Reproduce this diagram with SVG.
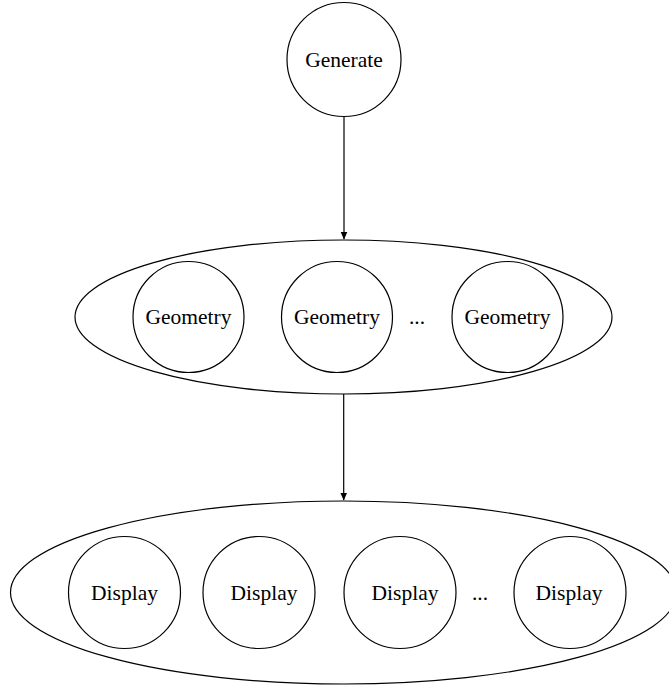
<svg xmlns="http://www.w3.org/2000/svg" width="669" height="688" viewBox="0 0 669 688">
<defs>
<style>
.n{fill:none;stroke:#000;stroke-width:1.2}
.t{font-family:"Liberation Serif","Times New Roman",serif;font-size:21.5px;fill:#000;text-anchor:middle}
.e{stroke:#000;stroke-width:1.2;fill:none}
</style>
<marker id="ah" markerWidth="8" markerHeight="12" refX="7.5" refY="3.5" orient="auto" markerUnits="userSpaceOnUse" viewBox="0 0 8 7">
<path d="M0,0 L8,3.5 L0,7 Z" fill="#000"/>
</marker>
</defs>
<rect width="669" height="688" fill="#fff"/>
<g id="connectors">
<line class="e" x1="344" y1="117" x2="344" y2="239" marker-end="url(#ah)"/>
<line class="e" x1="343.7" y1="394" x2="343.7" y2="500" marker-end="url(#ah)"/>
</g>
<g id="generate">
<circle class="n" cx="344" cy="59.5" r="57"/>
<text class="t" x="344" y="67">Generate</text>
</g>
<g id="geometry-group">
<ellipse class="n" cx="343.5" cy="317" rx="268.5" ry="77"/>
</g>
<g id="geometry1">
<circle class="n" cx="188.5" cy="317" r="55.5"/>
<text class="t" x="188.5" y="324">Geometry</text>
</g>
<g id="geometry2">
<circle class="n" cx="337" cy="317" r="55.5"/>
<text class="t" x="337" y="324">Geometry</text>
</g>
<g id="geometry-dots">
<text class="t" x="417" y="324">...</text>
</g>
<g id="geometry3">
<circle class="n" cx="507.5" cy="317" r="55.5"/>
<text class="t" x="507.5" y="324">Geometry</text>
</g>
<g id="display-group">
<ellipse class="n" cx="343.5" cy="592.5" rx="333" ry="91.5"/>
</g>
<g id="display1">
<circle class="n" cx="124.5" cy="592.5" r="56"/>
<text class="t" x="124.5" y="600">Display</text>
</g>
<g id="display2">
<circle class="n" cx="259" cy="592.5" r="56"/>
<text class="t" x="264" y="600">Display</text>
</g>
<g id="display3">
<circle class="n" cx="400" cy="592.5" r="56"/>
<text class="t" x="405" y="600">Display</text>
</g>
<g id="display-dots">
<text class="t" x="480" y="600">...</text>
</g>
<g id="display4">
<circle class="n" cx="570" cy="592.5" r="56"/>
<text class="t" x="569" y="600">Display</text>
</g>
</svg>
